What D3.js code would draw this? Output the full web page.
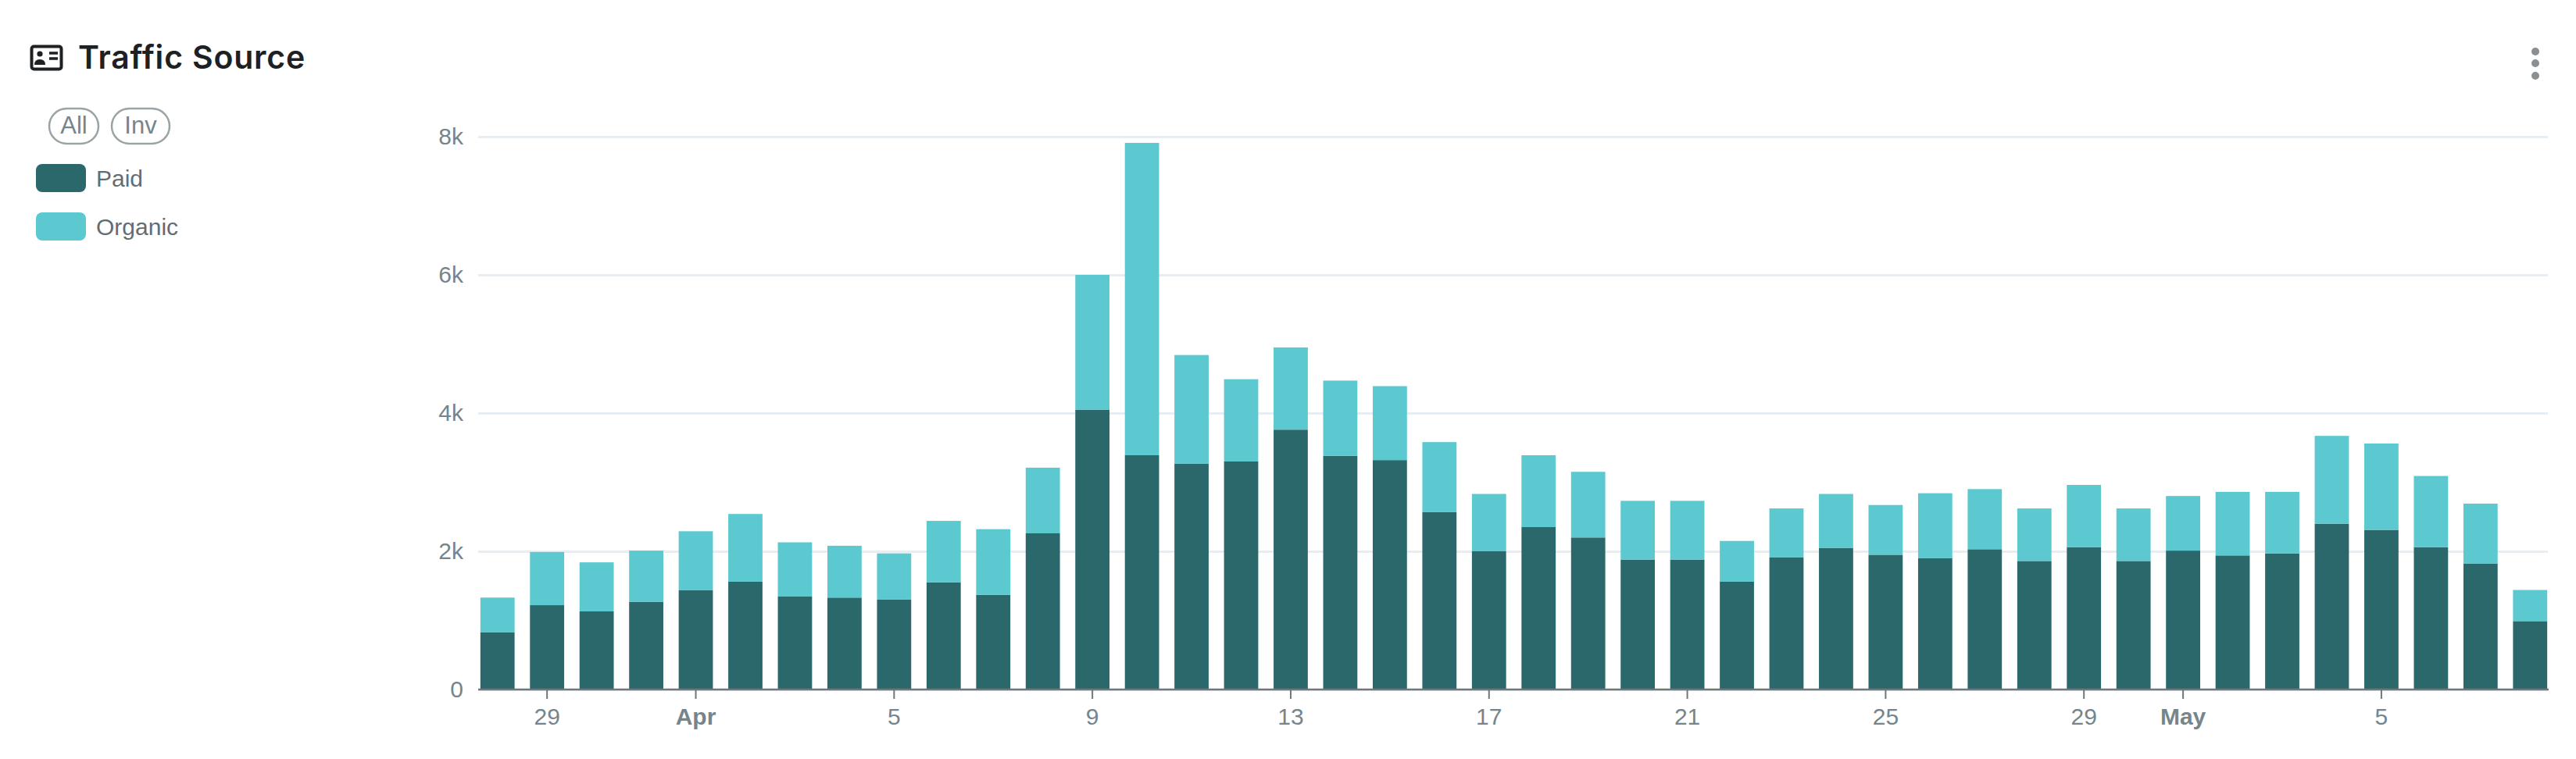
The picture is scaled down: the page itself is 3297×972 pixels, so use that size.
<!DOCTYPE html>
<html>
<head>
<meta charset="utf-8">
<title>Traffic Source</title>
<script src="https://cdn.jsdelivr.net/npm/d3@7"></script>
<style>
    html, body { margin: 0; background: #fff; }
    svg { display: block; }
    text { font-family: "Liberation Sans", Arial, sans-serif; fill: #76858b; }
    .title { font-family: Inter, sans-serif; font-weight: 600; fill: #1d2124; letter-spacing: 0.8px; }
    .month { font-weight: bold; }
</style>
</head>
<body>
<svg id="chart" width="3297" height="972"></svg>
<script>
var days = ["Mar 28", "Mar 29", "Mar 30", "Mar 31",
    "Apr 1", "Apr 2", "Apr 3", "Apr 4", "Apr 5", "Apr 6", "Apr 7", "Apr 8", "Apr 9", "Apr 10",
    "Apr 11", "Apr 12", "Apr 13", "Apr 14", "Apr 15", "Apr 16", "Apr 17", "Apr 18", "Apr 19", "Apr 20",
    "Apr 21", "Apr 22", "Apr 23", "Apr 24", "Apr 25", "Apr 26", "Apr 27", "Apr 28", "Apr 29", "Apr 30",
    "May 1", "May 2", "May 3", "May 4", "May 5", "May 6", "May 7", "May 8"];
var paid = [830, 1220, 1130, 1270, 1440, 1560, 1350, 1330, 1300, 1550, 1370, 2260, 4050, 3390,
    3270, 3300, 3760, 3380, 3320, 2570, 2000, 2350, 2200, 1880, 1880, 1560, 1910, 2050,
    1950, 1900, 2030, 1860, 2060, 1860, 2010, 1940, 1970, 2400, 2310, 2060, 1820, 990];
var organic = [500, 770, 710, 740, 850, 980, 780, 750, 670, 890, 950, 950, 1950, 4520,
    1570, 1190, 1190, 1090, 1070, 1010, 830, 1040, 950, 850, 850, 590, 710, 780,
    720, 940, 870, 760, 900, 760, 790, 920, 890, 1270, 1250, 1030, 870, 450];
var seriesNames = ["Paid", "Organic"];
var seriesColors = ["#2b686b", "#5bc9cf"];
var yTicks = [0, 2000, 4000, 6000, 8000];
var xTicks = ["Mar 29", "Apr 1", "Apr 5", "Apr 9", "Apr 13", "Apr 17", "Apr 21", "Apr 25", "Apr 29", "May 1", "May 5"];
var xTickLabels = ["29", "Apr", "5", "9", "13", "17", "21", "25", "29", "May", "5"];
var buttons = ["All", "Inv"];

var svg = d3.select("#chart");
var plotLeft = 612, plotRight = 3261, plotTop = 175, plotBottom = 883;

var x = d3.scaleBand().domain(days).range([605, 3270]).paddingInner(0.31).paddingOuter(0.155);
var y = d3.scaleLinear().domain([0, 8000]).range([plotBottom, plotTop]);

// y axis, the tick lines are the grid
var yAxis = svg.append("g")
    .attr("transform", "translate(" + plotLeft + ",0)")
    .call(d3.axisLeft(y).tickValues(yTicks).tickSize(-(plotRight - plotLeft)).tickPadding(19)
        .tickFormat(function (d) { return d ? d / 1000 + "k" : "0"; }));
yAxis.select(".domain").remove();
yAxis.selectAll("line").attr("stroke", "#e6eef4").attr("stroke-width", 3);
yAxis.selectAll("text").attr("font-size", 30).style("font-family", null).attr("fill", null);

// stacked bars
var rows = days.map(function (d, i) { return { day: d, Paid: paid[i], Organic: organic[i] }; });
var stacked = d3.stack().keys(seriesNames)(rows);

svg.append("clipPath").attr("id", "plotClip").append("rect")
    .attr("x", plotLeft).attr("y", 0)
    .attr("width", plotRight - plotLeft).attr("height", plotBottom);

svg.append("g").attr("clip-path", "url(#plotClip)")
    .selectAll("g")
    .data(stacked)
    .enter()
    .append("g")
    .attr("fill", function (d, i) { return seriesColors[i]; })
    .selectAll("rect")
    .data(function (d) { return d; })
    .enter()
    .append("rect")
    .attr("x", function (d) { return x(d.data.day); })
    .attr("y", function (d) { return y(d[1]); })
    .attr("width", x.bandwidth())
    .attr("height", function (d) { return y(d[0]) - y(d[1]); });

// x axis
var xAxis = svg.append("g")
    .attr("transform", "translate(0," + plotBottom + ")")
    .call(d3.axisBottom(x).tickValues(xTicks).tickSize(12).tickPadding(12).tickSizeOuter(0)
        .tickFormat(function (d) { return xTickLabels[xTicks.indexOf(d)]; }));
xAxis.select(".domain").attr("d", "M" + plotLeft + ",0H" + (plotRight + 1))
    .attr("stroke", "#6f777b").attr("stroke-width", 2.5);
xAxis.selectAll("line").attr("stroke", "#6f777b").attr("stroke-width", 2);
xAxis.selectAll("text").attr("font-size", 30).attr("fill", null).style("font-family", null)
    .attr("class", function (d) { return d.slice(-2) === " 1" ? "month" : null; });

// header
svg.append("text").attr("class", "title")
    .attr("x", 100).attr("y", 88).attr("font-size", 41)
    .text("Traffic Source");

var icon = svg.append("g").attr("transform", "translate(38,57)");
icon.append("rect").attr("x", 2.5).attr("y", 2.5).attr("width", 38).attr("height", 29).attr("rx", 3)
    .attr("fill", "none").attr("stroke", "#1d2124").attr("stroke-width", 4);
icon.append("circle").attr("cx", 13).attr("cy", 12).attr("r", 3.6).attr("fill", "#1d2124");
icon.append("path").attr("d", "M6,26 q0,-7 7,-7 q7,0 7,7 z").attr("fill", "#1d2124");
icon.append("path").attr("d", "M25,11H36M25,18H36").attr("stroke", "#1d2124").attr("stroke-width", 3.5);

svg.selectAll(".menuDot")
    .data([66, 81, 97])
    .enter()
    .append("circle")
    .attr("class", "menuDot")
    .attr("cx", 3245)
    .attr("cy", function (d) { return d; })
    .attr("r", 5)
    .attr("fill", "#8a8f93");

// legend buttons
var buttonX = [63, 143], buttonW = [63, 74];
var btn = svg.selectAll(".btn")
    .data(buttons)
    .enter()
    .append("g")
    .attr("class", "btn");
btn.append("rect")
    .attr("x", function (d, i) { return buttonX[i]; })
    .attr("y", 139)
    .attr("width", function (d, i) { return buttonW[i]; })
    .attr("height", 45)
    .attr("rx", 22.5)
    .attr("fill", "#fff")
    .attr("stroke", "#9aa3a6")
    .attr("stroke-width", 2.5);
btn.append("text")
    .attr("x", function (d, i) { return buttonX[i] + buttonW[i] / 2; })
    .attr("y", 171)
    .attr("text-anchor", "middle")
    .attr("font-size", 31)
    .text(function (d) { return d; });

// legend entries
var legendY = [210, 272];
var entry = svg.selectAll(".legendEntry")
    .data(seriesNames)
    .enter()
    .append("g")
    .attr("class", "legendEntry");
entry.append("rect")
    .attr("x", 46)
    .attr("y", function (d, i) { return legendY[i]; })
    .attr("width", 64)
    .attr("height", 36)
    .attr("rx", 8)
    .attr("fill", function (d, i) { return seriesColors[i]; });
entry.append("text")
    .attr("x", 123)
    .attr("y", function (d, i) { return legendY[i] + 29; })
    .attr("font-size", 30)
    .style("fill", "#5f6e74")
    .text(function (d) { return d; });
</script>
</body>
</html>
